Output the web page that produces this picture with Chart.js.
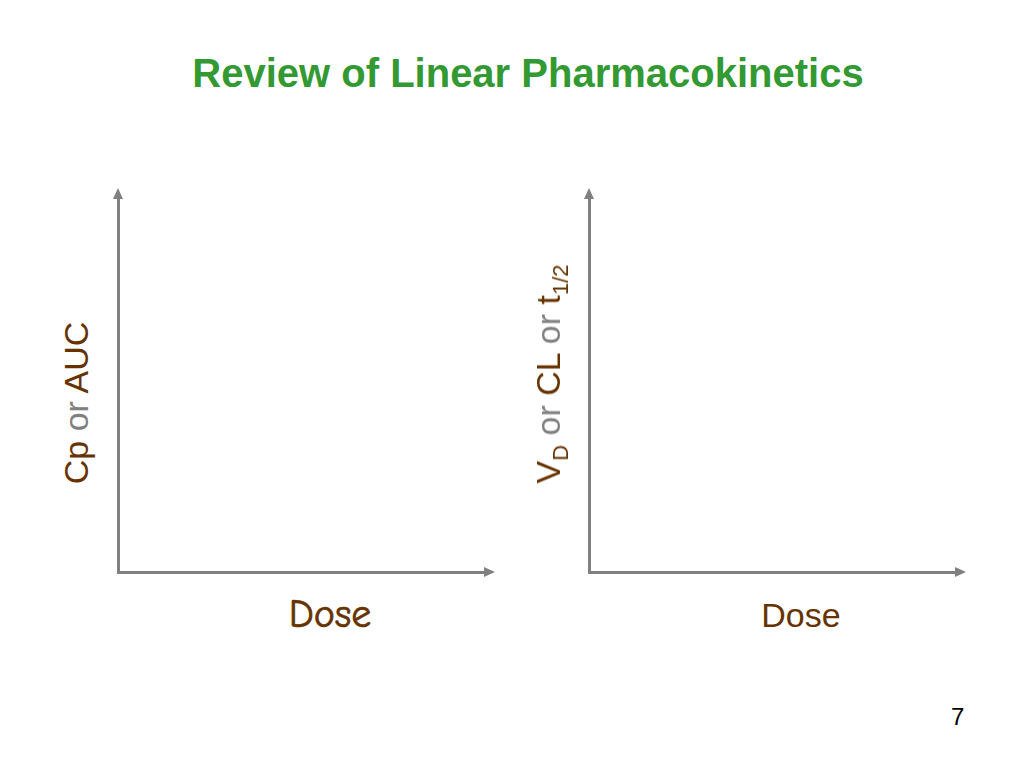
<!DOCTYPE html>
<html>
<head>
<meta charset="utf-8">
<script src="https://cdn.jsdelivr.net/npm/chart.js@4.4.0/dist/chart.umd.min.js"></script>
<style>
  html, body { margin: 0; padding: 0; background: #ffffff; }
  body { width: 1024px; height: 768px; position: relative; overflow: hidden; font-family: "Liberation Sans", Arial, sans-serif; }
  .title { position: absolute; left: 0; width: 1056px; top: 52px; text-align: center; font-weight: bold; font-size: 40px; color: #339933; line-height: 42px; }
  .box { position: absolute; width: 410px; height: 410px; }
  .ylabel { position: absolute; white-space: nowrap; font-size: 34px; color: #663300; transform: translate(-50%, -50%) rotate(-90deg); line-height: 40px; }
  .ylabel .or { color: #808080; }
  .ylabel sub { font-size: 22px; vertical-align: -8px; line-height: 0; }
  .dose { position: absolute; font-size: 34px; color: #663300; transform: translate(-50%, -50%); white-space: nowrap; }
  .comic { font-family: "Comic Sans MS", "Comic Neue", "Chalkboard", cursive; font-size: 40px; -webkit-text-stroke: 0.7px #663300; }
  .pagenum { position: absolute; left: 951px; top: 703px; font-size: 24px; color: #000; }
</style>
</head>
<body>
<div class="title">Review of Linear Pharmacokinetics</div>

<div class="box" style="left:100px; top:180px;"><canvas id="leftChart"></canvas></div>
<div class="box" style="left:571px; top:180px;"><canvas id="rightChart"></canvas></div>

<div class="ylabel" style="left:76px; top:403px;">Cp <span class="or">or</span> AUC</div>
<div class="ylabel" style="left:548px; top:374px;">V<sub>D</sub> <span class="or">or</span> CL <span class="or">or</span> t<sub>1/2</sub></div>

<div class="dose comic" style="left:330px; top:614px;">Dose</div>
<div class="dose" style="left:801px; top:615px;">Dose</div>

<div class="pagenum">7</div>

<script>
// empty axes: no measured points on either sketch
const doseRange = [0, 10];
const leftValues = [];
const rightValues = [];

const axisGray = '#808080';

// arrow heads at the open ends of both axes
const arrowPlugin = {
    id: 'axisArrows',
    afterDraw(chart) {
        const ctx = chart.ctx;
        const x = chart.scales.x;
        const y = chart.scales.y;
        const ox = x.left;
        const oy = y.bottom;
        ctx.save();
        ctx.fillStyle = axisGray;
        // y axis arrow
        ctx.beginPath();
        ctx.moveTo(ox - 5, y.top + 1);
        ctx.lineTo(ox + 5, y.top + 1);
        ctx.lineTo(ox, y.top - 10);
        ctx.closePath();
        ctx.fill();
        // x axis arrow
        ctx.beginPath();
        ctx.moveTo(x.right - 1, oy - 5);
        ctx.lineTo(x.right - 1, oy + 5);
        ctx.lineTo(x.right + 10, oy);
        ctx.closePath();
        ctx.fill();
        ctx.restore();
    }
};

function axisOptions() {
    return {
        min: doseRange[0],
        max: doseRange[1],
        ticks: { display: false },
        grid: { display: true, drawOnChartArea: false, drawTicks: false, lineWidth: 0 },
        border: { display: true, color: axisGray, width: 3 }
    };
}

function makeChart(id, values) {
    return new Chart(document.getElementById(id), {
        type: 'scatter',
        data: { datasets: [{ data: values, pointRadius: 0 }] },
        options: {
            responsive: true,
            maintainAspectRatio: false,
            animation: false,
            layout: { padding: { left: 18, top: 18, bottom: 18, right: 25 } },
            plugins: { legend: { display: false }, tooltip: { enabled: false } },
            scales: { x: axisOptions(), y: axisOptions() }
        },
        plugins: [arrowPlugin]
    });
}

makeChart('leftChart', leftValues);
makeChart('rightChart', rightValues);
</script>
</body>
</html>
